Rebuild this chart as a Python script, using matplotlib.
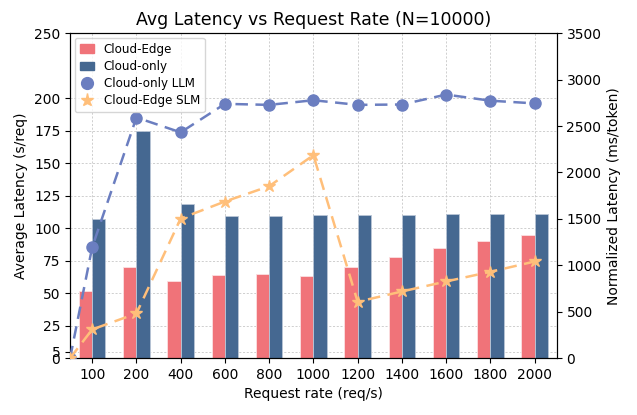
import numpy as np
import matplotlib
matplotlib.use('Agg')
import matplotlib.pyplot as plt
from matplotlib.lines import Line2D
from matplotlib.patches import Patch

# Request rates (x categories)
rates = ['100', '200', '400', '600', '800', '1000', '1200', '1400', '1600', '1800', '2000']

# Average latency per request (s/req), left axis
cloud_edge = [52, 70, 59, 64, 64.6, 63.5, 70, 78, 85, 90.5, 94.6]
cloud_only = [107, 175, 118.5, 109.6, 109.7, 110.3, 110.4, 110.5, 110.6, 110.6, 110.7]

# Normalized latency (ms/token), right axis; first value is the origin point
llm_norm = [0, 1195, 2592, 2432, 2739, 2728, 2778, 2728, 2732, 2839, 2773, 2744]
slm_norm = [0, 309, 481, 1504, 1687, 1852, 2186, 607, 718, 826, 930, 1041]

left_ticks = [0, 5, 25, 50, 75, 100, 125, 150, 175, 200, 250]

c_edge = '#F07379'
c_cloud = '#456891'
c_llm = '#6B7EC0'
c_slm = '#FFBF7A'


def main():
    fig = plt.figure(figsize=(6.37, 4.15), dpi=100)
    ax = fig.add_axes([0.110, 0.137, 0.764, 0.783])
    x = np.arange(len(rates))
    width = 0.3

    ax.bar(x - width / 2, cloud_edge, width, color=c_edge, edgecolor='#fbe0e2',
           linewidth=0.6, zorder=2)
    ax.bar(x + width / 2, cloud_only, width, color=c_cloud, edgecolor='#b9c6d6',
           linewidth=0.6, zorder=2)
    ax.set_xlim(-0.5, len(rates) - 0.5)
    ax.set_ylim(0, 250)
    ax.set_yticks(left_ticks)
    ax.set_xticks(x)
    ax.set_xticklabels(rates)
    ax.grid(True, linestyle=(0, (2.5, 2)), color='#c8c8c8', linewidth=0.6, zorder=0)
    ax.set_axisbelow(True)
    ax.tick_params(labelsize=10)
    ax.set_xlabel('Request rate (req/s)', fontsize=10)
    ax.set_ylabel('Average Latency (s/req)', fontsize=10)
    ax.set_title('Avg Latency vs Request Rate (N=10000)', fontsize=12.5)

    ax2 = ax.twinx()
    x_line = np.concatenate([[-0.5], x])
    ax2.plot(x_line, llm_norm, linestyle=(0, (5, 3)), marker='o', color=c_llm,
             lw=1.8, ms=8, zorder=3)
    ax2.plot(x_line, slm_norm, linestyle=(0, (5, 3)), marker='*', color=c_slm,
             lw=1.8, ms=9, zorder=3)
    ax2.set_ylim(0, 3500)
    ax2.set_yticks(range(0, 3501, 500))
    ax2.tick_params(labelsize=10)
    ax2.set_ylabel('Normalized Latency (ms/token)', fontsize=10)

    handles = [Patch(color=c_edge), Patch(color=c_cloud),
               Line2D([], [], ls='none', marker='o', color=c_llm, ms=8.5),
               Line2D([], [], ls='none', marker='*', color=c_slm, ms=9.5)]
    labels = ['Cloud-Edge', 'Cloud-only', 'Cloud-only LLM', 'Cloud-Edge SLM']
    ax2.legend(handles, labels, loc='upper left', fontsize=8.6, handlelength=1.2,
               labelspacing=0.35, borderaxespad=0.4)

    plt.savefig('out.png', dpi=100)


if __name__ == "__main__":
    main()
